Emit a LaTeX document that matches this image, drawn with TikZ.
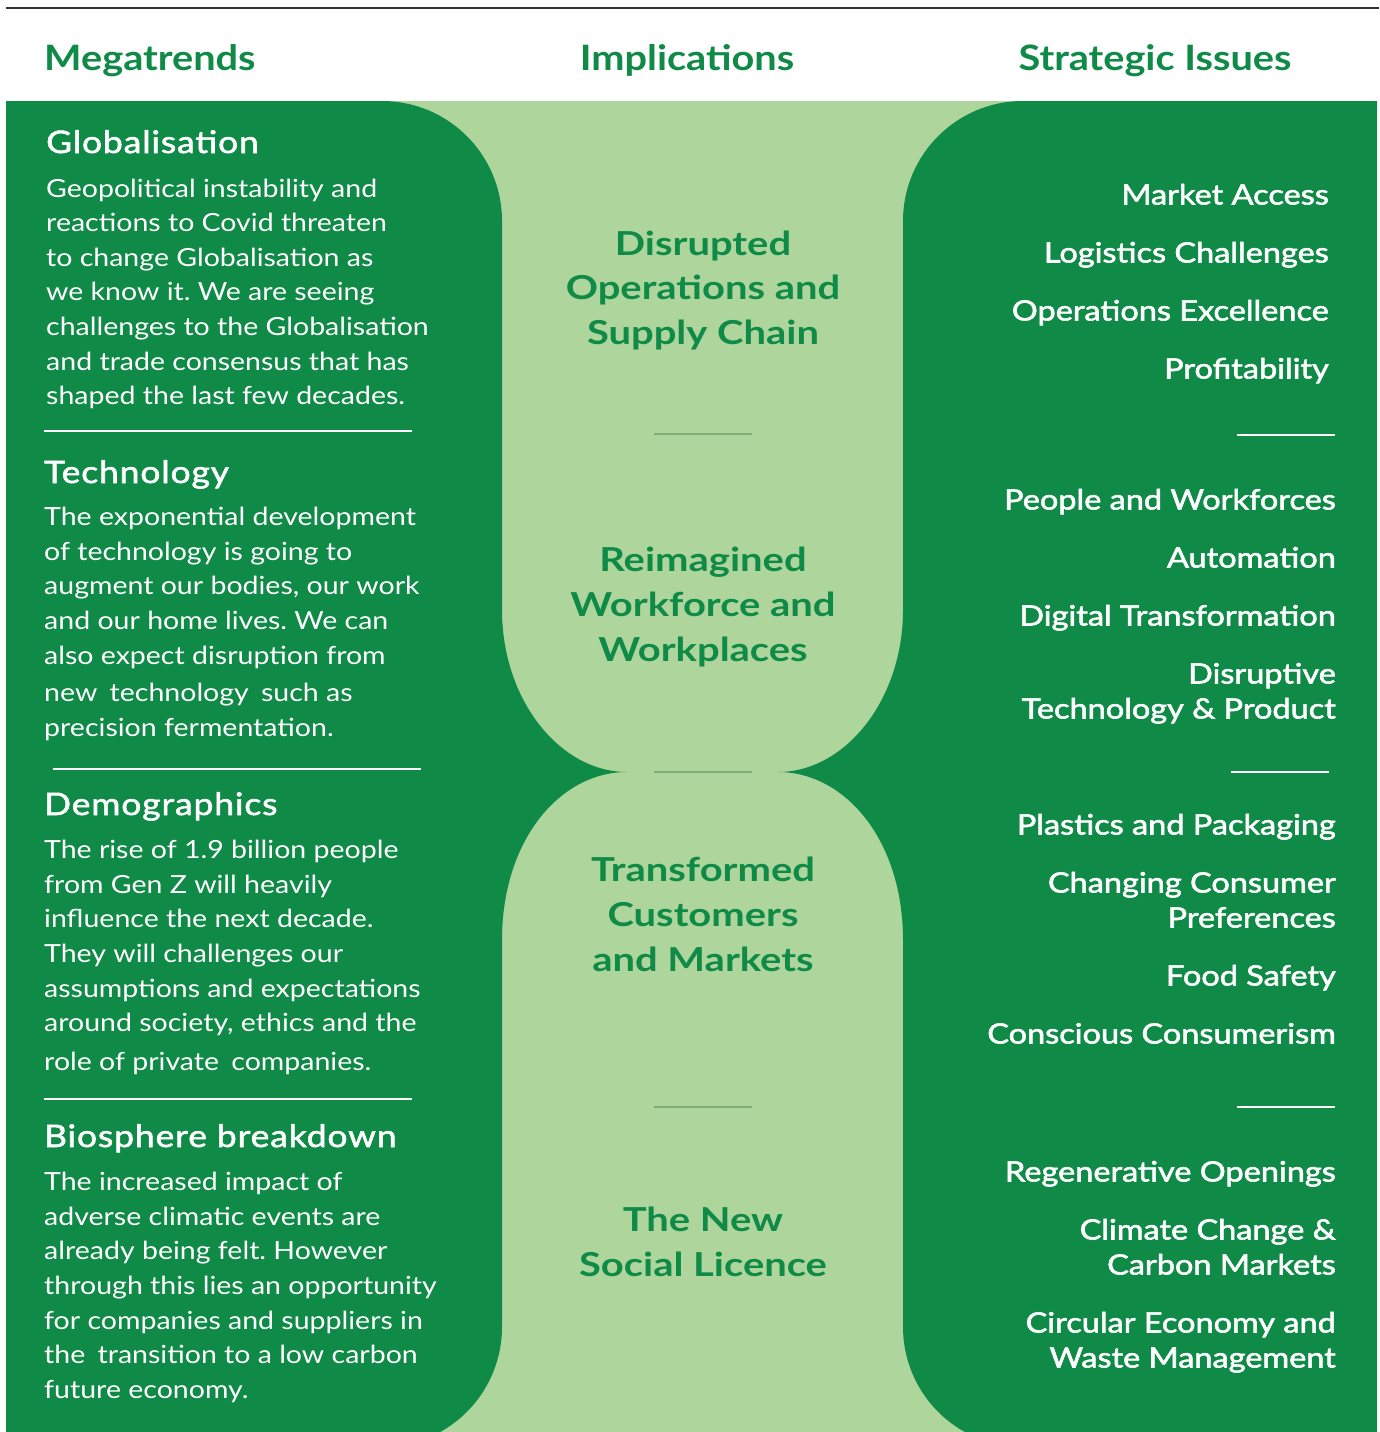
\documentclass[tikz,border=0pt]{standalone}
\usepackage{fontspec}
\setmainfont{Lato}
\frenchspacing
\newfontfamily\bodyfont{Lato}[FakeStretch=1.14]
\newfontfamily\headfont{Lato}[FakeStretch=1.14, FakeBold=1.8, LetterSpace=3]
\newfontfamily\titlefont{Lato}[FakeStretch=1.134]
\newfontfamily\midfont{Lato}[FakeStretch=1.21]
\newfontfamily\issuefont{Lato}[FakeStretch=1.16, FakeBold=2]
\definecolor{dkgreen}{HTML}{0F8A47}
\definecolor{ltgreen}{HTML}{AED69C}
\definecolor{sepgreen}{HTML}{7FAE7A}
\definecolor{rulegray}{HTML}{333333}
\tikzset{
  coltitle/.style={font=\fontsize{35}{40}\selectfont\titlefont\bfseries, text=dkgreen, inner sep=0pt},
  trendhead/.style={font=\fontsize{31}{36}\selectfont\headfont, text=white, anchor=base west, inner sep=0pt},
  body/.style={font=\fontsize{25}{30}\selectfont\bodyfont\frenchspacing, text=white, anchor=base west, inner sep=0pt},
  mid/.style={font=\fontsize{33}{40}\selectfont\midfont\bfseries, text=dkgreen, anchor=base, inner sep=0pt},
  issue/.style={font=\fontsize{28}{32}\selectfont\issuefont, text=white, anchor=base east, inner sep=0pt},
  wsep/.style={draw=white, line width=1.3pt},
  msep/.style={draw=sepgreen, line width=1.5pt},
}
\begin{document}
\begin{tikzpicture}[x=1pt,y=-1pt]
\useasboundingbox (0,0) rectangle (1379,1432);
\fill[white] (0,0) rectangle (1379,1432);
\draw[rulegray, line width=2pt] (6,8) -- (1379,8);
% light green band
\fill[ltgreen] (6,101) rectangle (1377,1432);
% left dark shape
\fill[dkgreen] (6,101) -- (382,101) .. controls (448.3,101) and (502,154.7) .. (502,221)
  -- (502,610) .. controls (502,700) and (560,772) .. (627,772)
  .. controls (560,772) and (502,840) .. (502,940)
  -- (502,1327) .. controls (502,1370.6) and (478.3,1410.9) .. (440.1,1432)
  -- (6,1432) -- cycle;
% right dark shape
\fill[dkgreen] (1377,101) -- (1023,101) .. controls (956.7,101) and (903,154.7) .. (903,221)
  -- (903,610) .. controls (903,700) and (845,772) .. (778,772)
  .. controls (845,772) and (903,840) .. (903,940)
  -- (903,1327) .. controls (903,1370.6) and (926.7,1410.9) .. (964.9,1432)
  -- (1377,1432) -- cycle;

% column titles
\node[coltitle, anchor=base west] (tmega) at (44,70) {Megatrends};
\node[coltitle, anchor=base] (timpl) at (687,70) {Implications};
\node[coltitle, anchor=base] (tstrat) at (1155,70) {Strategic Issues};

% Globalisation
\node[trendhead] (hglob) at (46,153) {Globalisation};
\node[body] (g1) at (46,197) {Geopolitical instability and};
\node[body] (g2) at (46,231.6) {reactions to Covid threaten};
\node[body] (g3) at (46,266.2) {to change Globalisation as};
\node[body] (g4) at (46,300.8) {we know it. We are seeing};
\node[body] (g5) at (46,335.4) {challenges to the Globalisation};
\node[body] (g6) at (46,370) {and trade consensus that has};
\node[body] (g7) at (46,404.6) {shaped the last few decades.};
\draw[wsep] (44,431) -- (412,431);

% Technology
\node[trendhead] (htech) at (44,483) {Technology};
\node[body] (t1) at (44,525.6) {The exponential development};
\node[body] (t2) at (44,560.2) {of technology is going to};
\node[body] (t3) at (44,594.8) {augment our bodies, our work};
\node[body] (t4) at (44,629.4) {and our home lives. We can};
\node[body] (t5) at (44,664) {also expect disruption from};
\node[body] (t6) at (44,701.7) {new\hspace{0.2em} technology\hspace{0.2em} such as};
\node[body] (t7) at (44,736.7) {precision fermentation.};
\draw[wsep] (53,769) -- (421,769);

% Demographics
\node[trendhead] (hdemo) at (44,815) {Demographics};
\node[body] (d1) at (44,858) {The rise of 1.9 billion people};
\node[body] (d2) at (44,893) {from Gen Z will heavily};
\node[body] (d3) at (44,927) {influence the next decade.};
\node[body] (d4) at (44,962) {They will challenges our};
\node[body] (d5) at (44,997) {assumptions and expectations};
\node[body] (d6) at (44,1031) {around society, ethics and the};
\node[body] (d7) at (44,1070) {role of private\hspace{0.2em} companies.};
\draw[wsep] (44,1099) -- (412,1099);

% Biosphere
\node[trendhead] (hbio) at (44,1147) {Biosphere breakdown};
\node[body] (b1) at (44,1190) {The increased impact of};
\node[body] (b2) at (44,1225) {adverse climatic events are};
\node[body] (b3) at (44,1259) {already being felt. However};
\node[body] (b4) at (44,1294) {through this lies an opportunity};
\node[body] (b5) at (44,1329) {for companies and suppliers in};
\node[body] (b6) at (44,1363) {the\hspace{0.2em} transition to a low carbon};
\node[body] (b7) at (44,1398) {future economy.};

% middle implications
\node[mid] (m11) at (703,255) {Disrupted};
\node[mid] (m12) at (703,299.5) {Operations and};
\node[mid] (m13) at (703,344) {Supply Chain};
\draw[msep] (654,434) -- (752,434);
\node[mid] (m21) at (703,571) {Reimagined};
\node[mid] (m22) at (703,616) {Workforce and};
\node[mid] (m23) at (703,661) {Workplaces};
\draw[msep] (654,772) -- (752,772);
\node[mid] (m31) at (703,881) {Transformed};
\node[mid] (m32) at (703,926) {Customers};
\node[mid] (m33) at (703,971) {and Markets};
\draw[msep] (654,1107) -- (752,1107);
\node[mid] (m41) at (703,1231) {The New};
\node[mid] (m42) at (703,1276) {Social Licence};

% strategic issues
\node[issue] (s11) at (1329,204.5) {Market Access};
\node[issue] (s12) at (1329,262.5) {Logistics Challenges};
\node[issue] (s13) at (1329,320.5) {Operations Excellence};
\node[issue] (s14) at (1329,378.5) {Profitability};
\draw[wsep] (1237,435) -- (1335,435);
\node[issue] (s21) at (1336,509.5) {People and Workforces};
\node[issue] (s22) at (1336,567.5) {Automation};
\node[issue] (s23) at (1336,625.5) {Digital Transformation};
\node[issue] (s24) at (1336,683.5) {Disruptive};
\node[issue] (s25) at (1336,718.5) {Technology \& Product};
\draw[wsep] (1231,772) -- (1329,772);
\node[issue] (s31) at (1336,834.5) {Plastics and Packaging};
\node[issue] (s32) at (1336,892.5) {Changing Consumer};
\node[issue] (s33) at (1336,927.5) {Preferences};
\node[issue] (s34) at (1336,985.5) {Food Safety};
\node[issue] (s35) at (1336,1043.5) {Conscious Consumerism};
\draw[wsep] (1237,1107) -- (1335,1107);
\node[issue] (s41) at (1336,1181.5) {Regenerative Openings};
\node[issue] (s42) at (1336,1239.5) {Climate Change \&};
\node[issue] (s43) at (1336,1274.5) {Carbon Markets};
\node[issue] (s44) at (1336,1332.5) {Circular Economy and};
\node[issue] (s45) at (1336,1367.5) {Waste Management};
\end{tikzpicture}
\end{document}
